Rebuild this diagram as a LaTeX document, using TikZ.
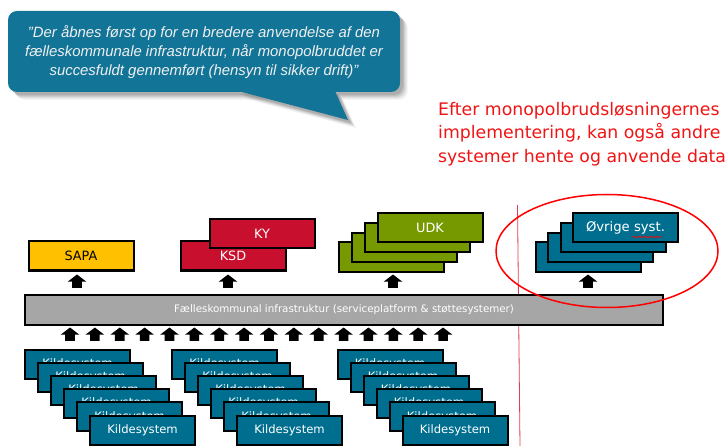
\documentclass[tikz,border=0pt]{standalone}
\usepackage{fontspec}
\setmainfont{DejaVu Sans}
\newfontfamily\bubblefont{Liberation Sans}
\usetikzlibrary{shapes.arrows,shapes.geometric,decorations.pathmorphing}
\definecolor{tealbox}{RGB}{0,111,143}
\definecolor{bubblecol}{RGB}{18,116,151}
\definecolor{sapacol}{RGB}{255,192,0}
\definecolor{redbox}{RGB}{200,16,46}
\definecolor{greenbox}{RGB}{119,153,0}
\definecolor{barfill}{RGB}{166,166,166}
\definecolor{redtext}{RGB}{240,20,20}
\definecolor{dividercol}{RGB}{225,60,80}
\begin{document}
\begin{tikzpicture}[x=1pt,y=-1pt,
  sysbox/.style={draw=black,line width=2pt,minimum width=105pt,minimum height=29pt,inner sep=0pt,font=\fontsize{12.8}{14}\selectfont},
  kilde/.style={sysbox,fill=tealbox,text=white,font=\fontsize{11.6}{13}\selectfont},
  uparrow/.style={single arrow,fill=black,draw=none,shape border rotate=90,minimum height=13pt,minimum width=18.5pt,single arrow head extend=4.5pt,single arrow tip angle=105,inner sep=4.6pt}
]
\useasboundingbox (0,0) rectangle (725,446);
\fill[white] (0,0) rectangle (725,446);

% speech bubble with soft shadow
\foreach \o/\op in {8/0.035,7/0.045,6/0.055,5/0.065,4/0.075,3/0.085}{
  \fill[black,opacity=\op,rounded corners=9pt] (8+\o,11+\o) rectangle (400+\o,92+\o);
  \fill[black,opacity=\op] (238+\o,91+\o) -- (348+\o,120+\o) -- (335+\o,91+\o) -- cycle;
}
\fill[bubblecol,rounded corners=9pt] (8,11) rectangle (400,92);
\fill[bubblecol] (238,91) -- (348,120) -- (335,91) -- cycle;
\node[align=center,text=white!88!gray,font=\bubblefont\itshape\fontsize{14.9}{18.8}\selectfont] (quote) at (204,52)
  {”Der åbnes først op for en bredere anvendelse af den\\fælleskommunale infrastruktur, når monopolbruddet er\\succesfuldt gennemført (hensyn til sikker drift)”};

% red note
\node[anchor=north west,align=left,text=redtext,inner sep=0pt,font=\fontsize{17.3}{23.5}\selectfont] (note) at (438,102)
  {Efter monopolbrudsløsningernes\\implementering, kan også andre\\systemer hente og anvende data};

% divider line
\coordinate (divtop) at (517.5,205);
\coordinate (divbot) at (520,446);
\draw[dividercol,line width=0.8pt] (divtop) -- (divbot);

% consumer systems
\node[sysbox,fill=sapacol,text=black] (sapa) at (81,256) {SAPA};
\node[sysbox,fill=redbox,text=white] (ksd) at (233,256) {KSD};
\node[sysbox,fill=redbox,text=white] (ky) at (262,234) {KY};
\foreach \i/\cx/\cy in {1/391/257,2/404/247.5,3/417/237.5}
  \node[sysbox,fill=greenbox] (udk\i) at (\cx,\cy) {};
\node[sysbox,fill=greenbox,text=white] (udk) at (430,228) {UDK};
\foreach \i/\cx/\cy in {1/588/257,2/600.5/247.5,3/613/237.5}
  \node[sysbox,fill=tealbox] (ovr\i) at (\cx,\cy) {};
\node[sysbox,fill=tealbox,text=white,font=\fontsize{13.2}{15}\selectfont] (ovr) at (625.5,228) {Øvrige syst.};
\draw[red,line width=0.6pt,decorate,decoration={snake,amplitude=0.8pt,segment length=3pt}] (632,237) -- (662,237);

% infrastructure bar
\node[draw=black,line width=2pt,fill=barfill,minimum width=638pt,minimum height=30pt,inner sep=0pt,text=white,font=\fontsize{10.3}{12}\selectfont] (bar) at (344,309.5)
  {Fælleskommunal infrastruktur (serviceplatform \& støttesystemer)};

% arrows to consumers
\node[uparrow] (asapa) at (77,283) {};
\node[uparrow] (aksd) at (228,283) {};
\node[uparrow] (audk) at (393,283) {};
\node[uparrow] (aovr) at (588,283) {};

% arrows from sources
\foreach \i in {0,...,15}
  \node[uparrow] (src\i) at (70+24.87*\i,336) {};

% source systems
\foreach \gx/\g in {77.5/1,224.5/2,390/3}
  \foreach \i in {0,...,5}
    \node[kilde] (k\g-\i) at (\gx+13*\i,364+13.2*\i) {Kildesystem};

% focus ellipse
\node[draw=red,line width=1.5pt,ellipse,minimum width=222pt,minimum height=113pt] (focus) at (607,251) {};
\end{tikzpicture}
\end{document}
